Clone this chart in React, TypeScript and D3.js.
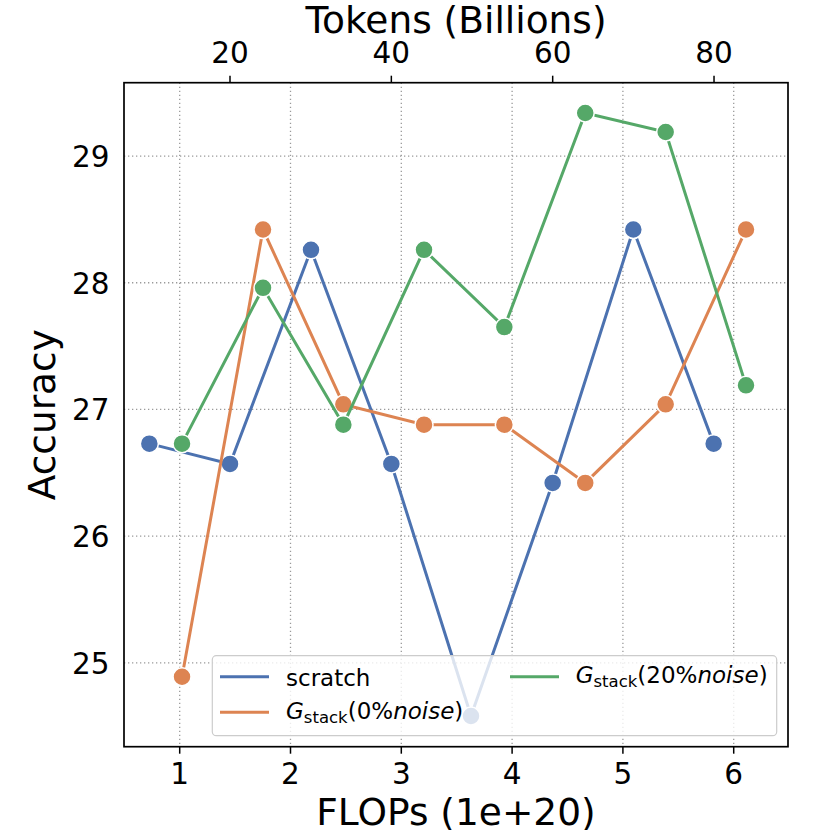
import * as d3 from "d3";

// FLOPs (1e+20)
const scratchFlops = [0.726, 1.454, 2.185, 2.91, 3.629, 4.366, 5.094, 5.819];
const stackFlops = [1.021, 1.752, 2.477, 3.205, 3.93, 4.66, 5.386, 6.111];

// accuracy per series
const scratchAcc = [26.73, 26.57, 28.26, 26.57, 24.58, 26.42, 28.42, 26.73];
const stack0Acc = [24.89, 28.42, 27.04, 26.88, 26.88, 26.42, 27.04, 28.42];
const stack20Acc = [26.73, 27.96, 26.88, 28.26, 27.65, 29.34, 29.19, 27.19];

const xTicks = [1, 2, 3, 4, 5, 6];
const yTicks = [25, 26, 27, 28, 29];
const tokenTicks = [20, 40, 60, 80];

const colors = { scratch: "#4c72b0", stack0: "#dd8452", stack20: "#55a868" };

const W = 830;
const H = 830;
const m = { left: 124, right: 42, top: 82.7, bottom: 83.3 };
const font = "DejaVu Sans, sans-serif";

type Pt = { x: number; y: number };

const zip = (xs: number[], ys: number[]): Pt[] => xs.map((x, i) => ({ x, y: ys[i] }));

const series = [
  { key: "scratch", color: colors.scratch, pts: zip(scratchFlops, scratchAcc) },
  { key: "stack0", color: colors.stack0, pts: zip(stackFlops, stack0Acc) },
  { key: "stack20", color: colors.stack20, pts: zip(stackFlops, stack20Acc) },
];

function MathLabel({ x, y, pct }: { x: number; y: number; pct: string }) {
  return (
    <text x={x} y={y} fontSize={23} fontFamily={font} fill="#000">
      <tspan fontStyle="italic">G</tspan>
      <tspan fontSize={16.5} dy={4}>
        stack
      </tspan>
      <tspan dy={-4}>({pct}</tspan>
      <tspan fontStyle="italic">noise</tspan>
      <tspan>)</tspan>
    </text>
  );
}

export default function App() {
  const x0 = m.left;
  const x1 = W - m.right;
  const y0 = m.top;
  const y1 = H - m.bottom;

  const x = d3.scaleLinear().domain([0.4973, 6.49]).range([x0, x1]);
  const xTop = d3.scaleLinear().domain([6.86, 89.17]).range([x0, x1]);
  const y = d3.scaleLinear().domain([24.338, 29.579]).range([y1, y0]);

  const line = d3
    .line<Pt>()
    .x((d) => x(d.x))
    .y((d) => y(d.y));

  const grid = { stroke: "#9a9a9a", strokeWidth: 1.3, strokeDasharray: "1.3,2.7" };

  // legend layout
  const lg = { x: 212.3, y: 655.7, w: 564.4, h: 80 };
  const row1 = 676.7;
  const row2 = 712.3;

  return (
    <svg
      width={W}
      height={H}
      style={{ position: "absolute", left: 0, top: 0, background: "#fff" }}
    >
      {/* grid */}
      {xTicks.map((t) => (
        <line key={"gx" + t} x1={x(t)} x2={x(t)} y1={y0} y2={y1} {...grid} />
      ))}
      {yTicks.map((t) => (
        <line key={"gy" + t} x1={x0} x2={x1} y1={y(t)} y2={y(t)} {...grid} />
      ))}

      {/* series */}
      {series.map((s) => (
        <g key={s.key}>
          <path d={line(s.pts) ?? ""} fill="none" stroke={s.color} strokeWidth={3} />
          {s.pts.map((p, i) => (
            <circle
              key={i}
              cx={x(p.x)}
              cy={y(p.y)}
              r={9}
              fill={s.color}
              stroke="#fff"
              strokeWidth={1.5}
            />
          ))}
        </g>
      ))}

      {/* frame */}
      <rect x={x0} y={y0} width={x1 - x0} height={y1 - y0} fill="none" stroke="#000" strokeWidth={1.7} />

      {/* bottom axis */}
      {xTicks.map((t) => (
        <g key={"bx" + t}>
          <line x1={x(t)} x2={x(t)} y1={y1} y2={y1 + 7} stroke="#000" strokeWidth={1.5} />
          <text x={x(t)} y={784} textAnchor="middle" fontSize={29.5} fontFamily={font}>
            {t}
          </text>
        </g>
      ))}
      <text x={(x0 + x1) / 2} y={825} textAnchor="middle" fontSize={37.5} fontFamily={font}>
        FLOPs (1e+20)
      </text>

      {/* top axis */}
      {tokenTicks.map((t) => (
        <g key={"tx" + t}>
          <line x1={xTop(t)} x2={xTop(t)} y1={y0} y2={y0 - 7} stroke="#000" strokeWidth={1.5} />
          <text x={xTop(t)} y={63} textAnchor="middle" fontSize={29.5} fontFamily={font}>
            {t}
          </text>
        </g>
      ))}
      <text x={(x0 + x1) / 2} y={32.5} textAnchor="middle" fontSize={37.5} fontFamily={font}>
        Tokens (Billions)
      </text>

      {/* left axis */}
      {yTicks.map((t) => (
        <text key={"ly" + t} x={109.5} y={y(t) + 11} textAnchor="end" fontSize={29.5} fontFamily={font}>
          {t}
        </text>
      ))}
      <text
        transform={`translate(55,${(y0 + y1) / 2}) rotate(-90)`}
        textAnchor="middle"
        fontSize={37.5}
        fontFamily={font}
      >
        Accuracy
      </text>

      {/* legend */}
      <rect
        x={lg.x}
        y={lg.y}
        width={lg.w}
        height={lg.h}
        rx={4}
        fill="#fff"
        fillOpacity={0.8}
        stroke="#cccccc"
        strokeWidth={1.2}
      />
      <line x1={220} x2={269} y1={row1} y2={row1} stroke={colors.scratch} strokeWidth={3} />
      <text x={286} y={row1 + 9} fontSize={23} fontFamily={font}>
        scratch
      </text>
      <line x1={220} x2={269} y1={row2} y2={row2} stroke={colors.stack0} strokeWidth={3} />
      <MathLabel x={286} y={row2 + 6.5} pct="0%" />
      <line x1={510} x2={559} y1={row1} y2={row1} stroke={colors.stack20} strokeWidth={3} />
      <MathLabel x={575.7} y={row1 + 6.5} pct="20%" />
    </svg>
  );
}
